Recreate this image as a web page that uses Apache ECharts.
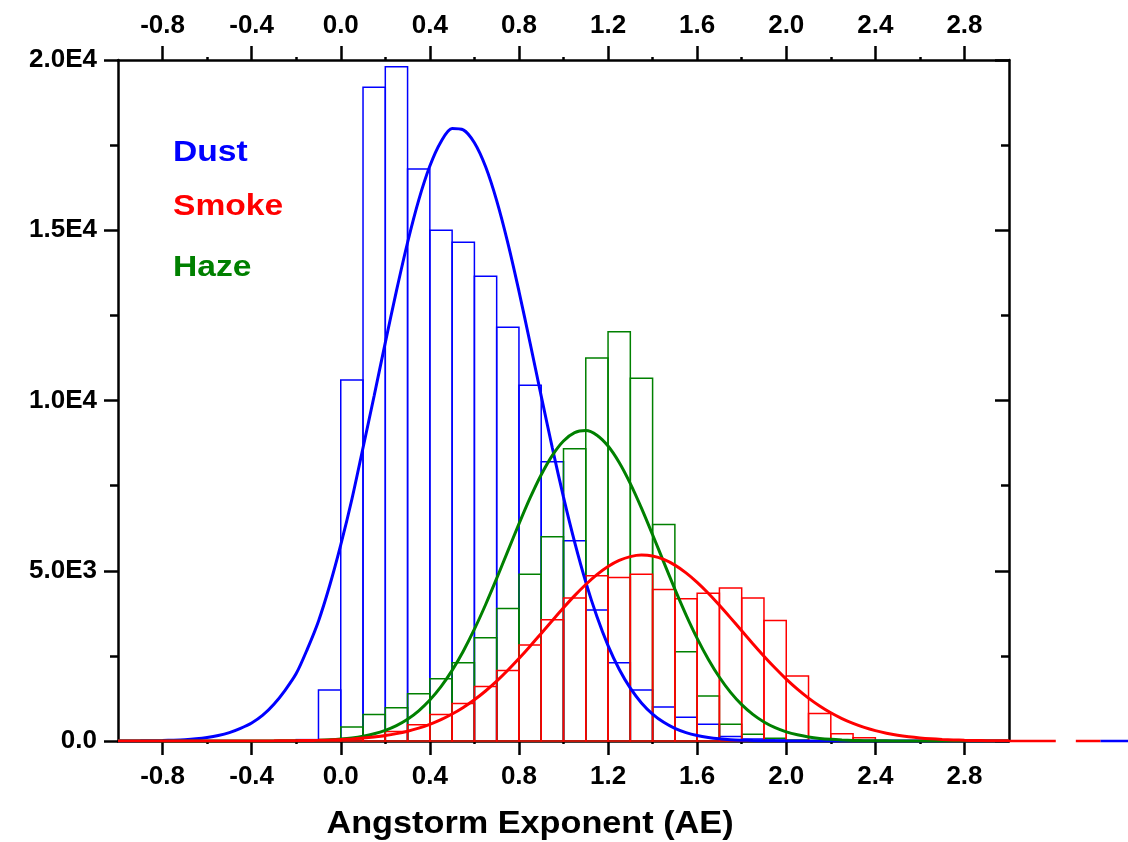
<!DOCTYPE html>
<html>
<head>
<meta charset="utf-8">
<style>
  html, body { margin: 0; padding: 0; background: #fff; }
  #chart { width: 1128px; height: 842px; }
</style>
<script src="https://cdn.jsdelivr.net/npm/echarts@6/dist/echarts.min.js"></script>
</head>
<body>
<div id="chart"></div>
<script>
// histogram bins (left edge of each 0.1 wide bin)
const binStart = [-0.2, -0.1, 0.0, 0.1, 0.2, 0.3, 0.4, 0.5, 0.6, 0.7, 0.8, 0.9, 1.0,
  1.1, 1.2, 1.3, 1.4, 1.5, 1.6, 1.7, 1.8, 1.9, 2.0, 2.1, 2.2, 2.3]
const binWidth = 0.1
const dustCounts = [40, 1500, 10600, 19200, 19800, 16800, 15000, 14650, 13650, 12150, 10450, 8200, 5880,
  3850, 2300, 1500, 1000, 700, 490, 130, 60, 30, 0, 0, 0, 0]
const smokeCounts = [0, 10, 60, 130, 280, 480, 780, 1100, 1600, 2070, 2820, 3560, 4200,
  4850, 4800, 4900, 4450, 4180, 4340, 4490, 4200, 3540, 1910, 810, 215, 95]
const hazeCounts = [0, 30, 410, 780, 980, 1390, 1830, 2300, 3030, 3890, 4900, 6000, 8580,
  11250, 12020, 10650, 6360, 2620, 1320, 490, 200, 80, 30, 0, 0, 0]

// fitted curves, read every 0.05
const curveX = [
  -1.00, -0.95, -0.90, -0.85, -0.80, -0.75, -0.70, -0.65, -0.60, -0.55,
  -0.50, -0.45, -0.40, -0.35, -0.30, -0.25, -0.20, -0.15, -0.10, -0.05,
  0.00, 0.05, 0.10, 0.15, 0.20, 0.25, 0.30, 0.35, 0.40, 0.45,
  0.50, 0.55, 0.60, 0.65, 0.70, 0.75, 0.80, 0.85, 0.90, 0.95,
  1.00, 1.05, 1.10, 1.15, 1.20, 1.25, 1.30, 1.35, 1.40, 1.45,
  1.50, 1.55, 1.60, 1.65, 1.70, 1.75, 1.80, 1.85, 1.90, 1.95,
  2.00, 2.05, 2.10, 2.15, 2.20, 2.25, 2.30, 2.35, 2.40, 2.45,
  2.50, 2.55, 2.60, 2.65, 2.70, 2.75, 2.80, 2.85, 2.90, 2.95,
  3.00]
const dustCurve = [
  1, 2, 4, 8, 14, 24, 39, 64, 103, 161,
  247, 372, 530, 760, 1080, 1490, 1980, 2700, 3520, 4560,
  5760, 7100, 8613, 10140, 11700, 13219, 14640, 15885, 16886, 17600,
  17990, 17950, 17570, 16870, 15870, 14630, 13210, 11690, 10130, 8605,
  7160, 5840, 4667, 3655, 2802, 2107, 1551, 1119, 791, 548,
  372, 247, 161, 103, 64, 39, 24, 14, 8, 4,
  2, 1, 0, 0, 0, 0, 0, 0, 0, 0,
  0, 0, 0, 0, 0, 0, 0, 0, 0, 0,
  0]
const smokeCurve = [
  0, 0, 0, 0, 0, 0, 0, 0, 0, 0,
  1, 1, 2, 3, 4, 6, 9, 14, 20, 30,
  43, 61, 85, 118, 161, 217, 288, 378, 490, 627,
  792, 986, 1211, 1469, 1758, 2076, 2420, 2783, 3160, 3540,
  3914, 4270, 4597, 4887, 5124, 5303, 5416, 5460, 5431, 5331,
  5165, 4938, 4659, 4339, 3986, 3616, 3236, 2858, 2491, 2143,
  1819, 1524, 1260, 1028, 828, 658, 516, 399, 305, 230,
  171, 126, 91, 65, 46, 32, 22, 15, 10, 7,
  4]
const hazeCurve = [
  0, 0, 0, 0, 0, 0, 0, 0, 0, 0,
  0, 0, 1, 2, 3, 5, 8, 13, 22, 36,
  58, 91, 141, 212, 313, 453, 640, 887, 1203, 1596,
  2074, 2637, 3283, 4001, 4774, 5576, 6375, 7138, 7821, 8390,
  8811, 9058, 9116, 8981, 8662, 8179, 7560, 6840, 6058, 5254,
  4460, 3706, 3015, 2402, 1872, 1428, 1067, 781, 559, 392,
  269, 181, 119, 76, 48, 30, 18, 11, 6, 4,
  2, 1, 0, 0, 0, 0, 0, 0, 0, 0,
  0]

// line pieces drawn past the right edge of the frame
const smokeTailSpans = [[3.0, 3.21], [3.3, 3.41]]
const dustTailSpans = [[3.41, 3.6]]

const xTickValues = [-0.8, -0.4, 0.0, 0.4, 0.8, 1.2, 1.6, 2.0, 2.4, 2.8]
const xMinorTickValues = [-0.6, -0.2, 0.2, 0.6, 1.0, 1.4, 1.8, 2.2, 2.6]
const yTickValues = [0, 5000, 10000, 15000, 20000]
const yTickLabels = ['0.0', '5.0E3', '1.0E4', '1.5E4', '2.0E4']

const BLUE = '#0000ff'
const RED = '#ff0000'
const GREEN = '#008000'
const FONT = '"Liberation Sans", Arial, sans-serif'

const chart = echarts.init(document.getElementById('chart'))

function histSeries (name, counts, color) {
  return {
    name: name,
    type: 'custom',
    data: binStart.map((x, i) => [x, counts[i]]),
    renderItem: function (params, api) {
      const x0 = api.value(0)
      const v = api.value(1)
      if (!v) return null
      const p0 = api.coord([x0, v])
      const p1 = api.coord([x0 + binWidth, 0])
      return {
        type: 'rect',
        shape: { x: p0[0], y: p0[1], width: p1[0] - p0[0], height: p1[1] - p0[1] },
        style: { fill: 'none', stroke: color, lineWidth: 1.5 }
      }
    },
    silent: true
  }
}

function curveSeries (name, values, color) {
  return {
    name: name,
    type: 'line',
    data: curveX.map((x, i) => [x, values[i]]),
    smooth: 0.3,
    showSymbol: false,
    lineStyle: { color: color, width: 3 },
    silent: true
  }
}

function tailSeries (spans, color) {
  return {
    type: 'custom',
    clip: false,
    data: spans,
    renderItem: function (params, api) {
      const a = api.coord([api.value(0), 0])
      const b = api.coord([api.value(1), 0])
      return {
        type: 'line',
        shape: { x1: a[0], y1: a[1], x2: b[0], y2: b[1] },
        style: { stroke: color, lineWidth: 2.5 }
      }
    },
    silent: true
  }
}

const labelStyle = { color: '#000', fontSize: 26, fontWeight: 'bold', fontFamily: FONT }
const axisLineStyle = { color: '#000', width: 2.5 }

chart.setOption({
  animation: false,
  backgroundColor: '#fff',
  grid: [
    { left: 118, right: 119, top: 60, bottom: 101, outerBoundsMode: 'none' },
    { left: 118, right: 119, top: 60, bottom: 101, outerBoundsMode: 'none' }
  ],
  xAxis: [
    {
      type: 'value', gridIndex: 0, position: 'bottom', min: -1, max: 3,
      axisLine: { show: true, onZero: false, lineStyle: axisLineStyle },
      axisTick: { show: true, customValues: xTickValues, length: 14, lineStyle: axisLineStyle },
      axisLabel: { customValues: xTickValues, formatter: v => v.toFixed(1), margin: 23, ...labelStyle },
      splitLine: { show: false }
    },
    {
      type: 'value', gridIndex: 0, position: 'top', min: -1, max: 3,
      axisLine: { show: true, onZero: false, lineStyle: axisLineStyle },
      axisTick: { show: true, customValues: xTickValues, length: 14, lineStyle: axisLineStyle },
      axisLabel: { customValues: xTickValues, formatter: v => v.toFixed(1), margin: 21, ...labelStyle },
      splitLine: { show: false }
    },
    {
      type: 'value', gridIndex: 1, position: 'bottom', min: -1, max: 3,
      axisLine: { show: false, onZero: false },
      axisTick: { show: true, customValues: xMinorTickValues, length: 3, lineStyle: axisLineStyle },
      axisLabel: { show: false },
      splitLine: { show: false }
    },
    {
      type: 'value', gridIndex: 1, position: 'top', min: -1, max: 3,
      axisLine: { show: false, onZero: false },
      axisTick: { show: true, customValues: xMinorTickValues, length: 3, lineStyle: axisLineStyle },
      axisLabel: { show: false },
      splitLine: { show: false }
    }
  ],
  yAxis: [
    {
      type: 'value', gridIndex: 0, position: 'left', min: 0, max: 20000, interval: 5000,
      axisLine: { show: true, onZero: false, lineStyle: axisLineStyle },
      axisTick: { show: true, length: 14, lineStyle: axisLineStyle },
      minorTick: { show: true, splitNumber: 2, length: 8, lineStyle: axisLineStyle },
      axisLabel: {
        formatter: v => yTickLabels[yTickValues.indexOf(v)],
        margin: 21,
        ...labelStyle
      },
      splitLine: { show: false },
      minorSplitLine: { show: false }
    },
    {
      type: 'value', gridIndex: 0, position: 'right', min: 0, max: 20000, interval: 5000,
      axisLine: { show: true, onZero: false, lineStyle: axisLineStyle },
      axisTick: { show: true, inside: true, length: 14, lineStyle: axisLineStyle },
      minorTick: { show: true, splitNumber: 2, length: 8, lineStyle: axisLineStyle },
      axisLabel: { show: false },
      splitLine: { show: false },
      minorSplitLine: { show: false }
    },
    { type: 'value', gridIndex: 1, min: 0, max: 20000, show: false }
  ],
  series: [
    histSeries('Dust', dustCounts, BLUE),
    histSeries('Haze', hazeCounts, GREEN),
    histSeries('Smoke', smokeCounts, RED),
    curveSeries('Dust fit', dustCurve, BLUE),
    curveSeries('Haze fit', hazeCurve, GREEN),
    curveSeries('Smoke fit', smokeCurve, RED),
    tailSeries(dustTailSpans, BLUE),
    tailSeries(smokeTailSpans, RED)
  ],
  graphic: [
    { type: 'text', x: 173, y: 152.5, scaleX: 1.12, style: { text: 'Dust', fill: BLUE, font: 'bold 30px ' + FONT, verticalAlign: 'middle' } },
    { type: 'text', x: 173, y: 206.5, scaleX: 1.12, style: { text: 'Smoke', fill: RED, font: 'bold 30px ' + FONT, verticalAlign: 'middle' } },
    { type: 'text', x: 173, y: 268, scaleX: 1.12, style: { text: 'Haze', fill: GREEN, font: 'bold 30px ' + FONT, verticalAlign: 'middle' } },
    { type: 'text', x: 530, y: 824, scaleX: 1.07, style: { text: 'Angstorm Exponent (AE)', fill: '#000', font: 'bold 32px ' + FONT, align: 'center', verticalAlign: 'middle' } }
  ]
})
</script>
</body>
</html>
